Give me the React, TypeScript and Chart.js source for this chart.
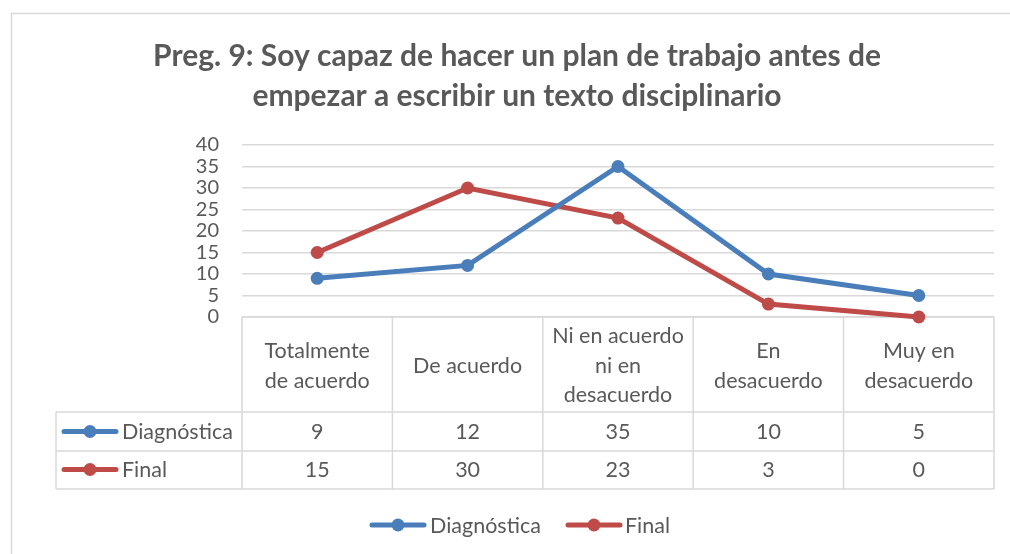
import React, { useEffect, useRef } from "react";
import { Chart, registerables } from "chart.js";

Chart.register(...registerables);

const titleLines = ["Preg. 9: Soy capaz de hacer un plan de trabajo antes de", "empezar a escribir un texto disciplinario"];
const categories = ["Totalmente de acuerdo", "De acuerdo", "Ni en acuerdo ni en desacuerdo", "En desacuerdo", "Muy en desacuerdo"];
const categoryLines = [["Totalmente", "de acuerdo"], ["De acuerdo"], ["Ni en acuerdo", "ni en", "desacuerdo"], ["En", "desacuerdo"], ["Muy en", "desacuerdo"]];
const seriesNames = ["Diagnóstica", "Final"];
const diagnostica = [9, 12, 35, 10, 5];
const finalVals = [15, 30, 23, 3, 0];
const yMax = 40;
const yStep = 5;

const BLUE = "#4a7ebb";
const RED = "#be4b48";
const TEXT = "#595959";
const GRID = "#d9d9d9";
const FONT = "Lato, 'Open Sans', sans-serif";

function drawMarker(ctx: CanvasRenderingContext2D, x1: number, x2: number, y: number, color: string) {
  ctx.save();
  ctx.strokeStyle = color;
  ctx.lineWidth = 5;
  ctx.lineCap = "round";
  ctx.beginPath();
  ctx.moveTo(x1 + 2, y);
  ctx.lineTo(x2 - 2, y);
  ctx.stroke();
  ctx.fillStyle = color;
  ctx.beginPath();
  ctx.arc((x1 + x2) / 2, y, 6.5, 0, Math.PI * 2);
  ctx.fill();
  ctx.restore();
}

const decorPlugin = {
  id: "decor",
  beforeDatasetsDraw(chart: any) {
    const ctx: CanvasRenderingContext2D = chart.ctx;
    const area = chart.chartArea;
    const xs = chart.scales.x;
    const n = categories.length;
    const colW = (area.right - area.left) / n;
    const headerBottom = area.bottom + 95;
    const row1Bottom = headerBottom + 39;
    const row2Bottom = row1Bottom + 38;
    const labelLeft = 56;

    ctx.save();
    // outer frame
    ctx.strokeStyle = GRID;
    ctx.lineWidth = 1.5;
    ctx.beginPath();
    ctx.moveTo(11.5, 600);
    ctx.lineTo(11.5, 13.5);
    ctx.lineTo(1020, 13.5);
    ctx.stroke();

    // title
    ctx.fillStyle = TEXT;
    ctx.textAlign = "center";
    ctx.textBaseline = "alphabetic";
    ctx.font = `bold 30px ${FONT}`;
    ctx.fillText(titleLines[0], 517, 66);
    ctx.fillText(titleLines[1], 517, 106);

    // table grid
    ctx.strokeStyle = GRID;
    ctx.lineWidth = 1.5;
    ctx.beginPath();
    ctx.moveTo(area.left, area.bottom);
    ctx.lineTo(area.right, area.bottom);
    for (const yy of [headerBottom, row1Bottom, row2Bottom]) {
      ctx.moveTo(labelLeft, yy);
      ctx.lineTo(area.right, yy);
    }
    for (let i = 0; i <= n; i++) {
      const xx = area.left + i * colW;
      ctx.moveTo(xx, area.bottom);
      ctx.lineTo(xx, row2Bottom);
    }
    ctx.moveTo(labelLeft, headerBottom);
    ctx.lineTo(labelLeft, row2Bottom);
    ctx.stroke();

    // header text
    ctx.fillStyle = TEXT;
    ctx.textBaseline = "middle";
    ctx.font = `21.5px ${FONT}`;
    const lh = 29.5;
    const hc = 366;
    categoryLines.forEach((lines, i) => {
      const cx = xs.getPixelForValue(i);
      const start = hc - ((lines.length - 1) * lh) / 2;
      ctx.textAlign = "center";
      lines.forEach((t, j) => ctx.fillText(t, cx, start + j * lh));
    });

    // data rows
    const rows = [diagnostica, finalVals];
    const colors = [BLUE, RED];
    const rowCenters = [432.5, 470.5];
    rows.forEach((vals, r) => {
      vals.forEach((v, i) => {
        ctx.textAlign = "center";
        ctx.fillText(String(v), xs.getPixelForValue(i), rowCenters[r]);
      });
      drawMarker(ctx, 62, 118, rowCenters[r] - 1, colors[r]);
      ctx.textAlign = "left";
      ctx.fillText(seriesNames[r], 122, rowCenters[r]);
    });

    // bottom legend
    const ly = 525;
    drawMarker(ctx, 370, 426, ly, BLUE);
    ctx.textAlign = "left";
    ctx.fillText(seriesNames[0], 430, ly + 1);
    drawMarker(ctx, 566, 622, ly, RED);
    ctx.fillText(seriesNames[1], 625, ly + 1);
    ctx.restore();
  },
};

export default function App() {
  const ref = useRef<HTMLCanvasElement>(null);
  useEffect(() => {
    if (!ref.current) return;
    const mk = (label: string, data: number[], color: string) => ({
      label,
      data,
      borderColor: color,
      backgroundColor: color,
      borderWidth: 5,
      pointRadius: 6.5,
      pointHoverRadius: 6.5,
      pointBorderWidth: 0,
      tension: 0,
      clip: false as any,
    });
    const chart = new Chart(ref.current, {
      type: "line",
      data: {
        labels: categories,
        datasets: [mk(seriesNames[0], diagnostica, BLUE), mk(seriesNames[1], finalVals, RED)],
      },
      options: {
        animation: false,
        responsive: false,
        maintainAspectRatio: false,
        layout: { padding: { left: 192, right: 16, top: 145, bottom: 237 } },
        plugins: { legend: { display: false }, title: { display: false }, tooltip: { enabled: false } },
        scales: {
          x: { type: "category", display: false, offset: true },
          y: {
            min: 0,
            max: yMax,
            afterFit: (s: any) => {
              s.width = 50;
            },
            ticks: {
              stepSize: yStep,
              autoSkip: false,
              color: TEXT,
              font: { family: FONT, size: 20 },
              padding: 23,
            },
            grid: { color: GRID, lineWidth: 1.5, drawTicks: false },
            border: { display: false },
          },
        },
      },
      plugins: [decorPlugin],
    });
    return () => chart.destroy();
  }, []);
  return (
    <div style={{ position: "fixed", left: 0, top: 0, width: 1010, height: 554, background: "#fff" }}>
      <canvas ref={ref} width={1010} height={554} style={{ display: "block" }} />
    </div>
  );
}
